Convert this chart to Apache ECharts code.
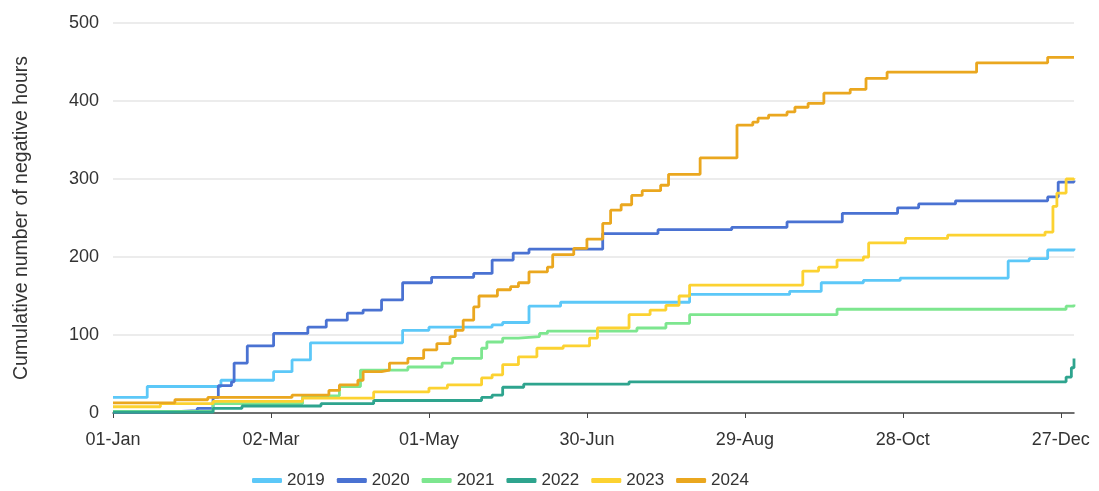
<!DOCTYPE html>
<html>
<head>
<meta charset="utf-8">
<script src="https://cdn.jsdelivr.net/npm/echarts@6/dist/echarts.min.js"></script>
<style>
  html, body { margin: 0; padding: 0; background: #fff; }
  #chart { width: 1099px; height: 491px; }
</style>
</head>
<body>
<div id="chart"></div>
<script>
// x = day of year (0 = 01-Jan), y = cumulative negative hours, step changes
const tickDays   = [0, 60, 120, 180, 240, 300, 360]
const tickLabels = ['01-Jan', '02-Mar', '01-May', '30-Jun', '29-Aug', '28-Oct', '27-Dec']

const y2019 = [[0,20],[13,34],[41,42],[61,53],[68,68],[75,90],[110,106],[120,110],[144,113],[148,116],[158,137],[170,142],[219,152],[257,156],[269,167],[285,170],[299,173],[340,195],[348,198],[355,209],[365,211]]
const y2020 = [[0,1],[20,3],[32,6],[38,20],[40,35],[45,40],[46,64],[51,86],[61,102],[74,110],[81,119],[89,128],[95,132],[102,145],[110,167],[121,174],[137,179],[144,196],[152,205],[158,210],[186,230],[207,235],[235,238],[256,245],[277,256],[298,263],[306,268],[320,272],[355,277],[359,296],[365,298]]
const y2021 = [[0,2],[38,12],[72,22],[86,34],[94,55],[112,59],[125,64],[129,70],[140,83],[142,91],[148,96],[154,98],[162,102],[165,105],[199,109],[210,115],[219,126],[275,133],[362,137],[365,139]]
const y2022 = [[0,1],[38,6],[49,9],[79,12],[99,16],[140,20],[144,23],[148,33],[156,37],[196,40],[362,46],[364,58],[365,70]]
const y2023 = [[0,8],[18,12],[38,15],[72,19],[99,27],[120,32],[127,36],[140,45],[144,49],[148,62],[154,72],[161,83],[171,86],[181,96],[184,109],[196,126],[204,132],[210,138],[215,150],[219,164],[262,182],[268,187],[275,196],[285,200],[287,218],[301,224],[317,228],[354,232],[357,265],[358.5,282],[362,300],[365,301]]
const y2024 = [[0,13],[23.5,17],[36,20],[68,23],[82,29],[86,36],[93,42],[95,53],[102,55],[105,64],[112,70],[118,81],[123,89],[128,98],[130,106],[133,119],[137,136],[139,150],[146,158],[151,162],[154,167],[158,181],[165,187],[167,203],[175,211],[180,223],[186,243],[189,260],[193,267],[197,279],[201,285],[208,292],[211,306],[223,327],[237,369],[243,373],[245,378],[249,382],[256,386],[259,392],[264,397],[270,410],[280,415],[286,429],[294,437],[328,449],[355,456],[365,456]]

const years  = ['2019', '2020', '2021', '2022', '2023', '2024']
const values = [y2019, y2020, y2021, y2022, y2023, y2024]
const COLORS = ['#5cc8f8', '#4a72d2', '#7de68f', '#2ea48e', '#fcd231', '#eaa71f']

const chart = echarts.init(document.getElementById('chart'))

chart.setOption({
  animation: false,
  color: COLORS,
  textStyle: { fontFamily: 'Liberation Sans, Arial, sans-serif' },
  grid: { left: 113, right: 25, top: 23, bottom: 78 },
  legend: {
    data: years,
    left: 247,
    top: 467,
    icon: 'roundRect',
    itemWidth: 30,
    itemHeight: 5,
    itemGap: 12,
    textStyle: { fontSize: 17, color: '#333' },
  },
  xAxis: {
    type: 'value',
    min: 0,
    max: 365,
    axisLine: { lineStyle: { color: '#444', width: 1.5 } },
    axisTick: { show: true, length: 5, customValues: tickDays, lineStyle: { color: '#444' } },
    axisLabel: {
      customValues: tickDays,
      fontSize: 18,
      color: '#333',
      margin: 18,
      formatter: (v) => tickLabels[tickDays.indexOf(v)] ?? '',
    },
    splitLine: { show: false },
  },
  yAxis: {
    type: 'value',
    min: 0,
    max: 500,
    interval: 100,
    name: 'Cumulative number of negative hours',
    nameLocation: 'middle',
    nameGap: 81,
    nameTextStyle: { fontSize: 19.5, color: '#333' },
    axisLine: { show: false },
    axisTick: { show: false },
    axisLabel: { fontSize: 18, color: '#333', margin: 14 },
    splitLine: { lineStyle: { color: '#e6e6e6', width: 1.5 } },
  },
  series: years.map((y, i) => ({
    name: y,
    type: 'line',
    step: 'end',
    showSymbol: false,
    data: values[i],
    lineStyle: { width: 2.8 },
  })),
})
</script>
</body>
</html>
